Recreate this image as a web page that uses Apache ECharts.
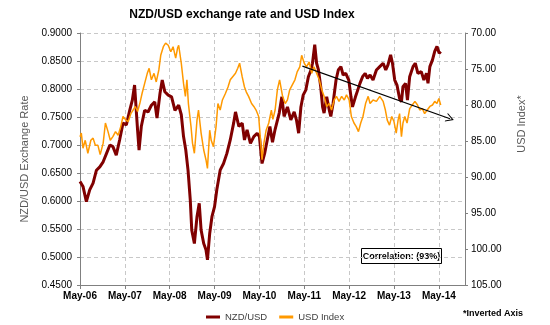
<!DOCTYPE html>
<html>
<head>
<meta charset="utf-8">
<script src="https://cdn.jsdelivr.net/npm/echarts@6/dist/echarts.min.js"></script>
<style>
  html, body { margin: 0; padding: 0; background: #fff; }
  #chart { width: 550px; height: 325px; }
</style>
</head>
<body>
<div id="chart"></div>
<script>
// Months elapsed since May 2006 (x positions) and NZD/USD spot rate
const nzdMonths = [0,0.8,1.7,2.6,3.5,4.4,5.3,6.2,7.1,8.0,8.8,9.7,10.6,11.5,12.4,13.3,14.0,14.6,15.4,15.8,
  16.4,17.3,18.2,19.1,20.0,20.6,21.4,22.0,22.7,23.6,24.5,25.4,26.4,27.1,27.7,28.3,28.9,29.5,29.9,30.6,
  31.3,31.9,32.4,33.1,33.7,34.1,34.7,35.3,36.0,36.6,37.5,38.4,39.3,40.2,41.1,41.6,42.5,43.4,44.0,44.7,
  45.6,46.5,47.4,48.0,48.7,49.4,50.1,50.8,51.5,52.2,53.3,54.0,54.6,55.5,56.4,57.3,57.9,58.5,59.1,59.7,
  60.4,61.1,61.8,62.2,62.8,63.3,63.8,64.4,64.9,65.3,66.0,66.7,67.1,67.7,68.5,69.1,69.8,70.4,71.1,71.9,
  72.5,72.9,73.7,74.3,74.9,75.6,76.3,76.9,77.6,78.4,79.3,80.2,81.1,81.8,82.4,83.1,83.6,84.2,84.8,85.5,
  86.0,86.4,87.1,87.6,88.2,89.1,89.7,90.4,91.3,92.0,92.7,93.1,93.6,94.3,94.9,95.5,96.1,96.5];
const nzdValues = [0.635,0.626,0.599,0.620,0.632,0.655,0.661,0.670,0.685,0.700,0.697,0.682,0.709,0.739,0.736,0.762,0.780,0.807,0.727,0.691,
  0.733,0.762,0.759,0.771,0.777,0.748,0.792,0.816,0.795,0.789,0.786,0.762,0.771,0.754,0.715,0.691,0.655,0.602,0.548,0.524,
  0.572,0.596,0.548,0.524,0.513,0.495,0.542,0.572,0.590,0.620,0.655,0.667,0.685,0.709,0.739,0.759,0.733,0.739,0.709,0.727,
  0.703,0.715,0.721,0.715,0.667,0.685,0.709,0.733,0.705,0.728,0.757,0.786,0.751,0.768,0.745,0.759,0.745,0.721,0.768,0.789,
  0.798,0.822,0.834,0.846,0.879,0.846,0.834,0.804,0.768,0.757,0.786,0.762,0.751,0.774,0.816,0.834,0.840,0.825,0.828,0.816,
  0.786,0.768,0.786,0.798,0.810,0.822,0.828,0.819,0.825,0.816,0.834,0.840,0.846,0.834,0.843,0.861,0.846,0.816,0.807,0.783,
  0.777,0.804,0.810,0.780,0.822,0.840,0.846,0.828,0.831,0.816,0.828,0.810,0.840,0.852,0.867,0.876,0.864,0.867];

// Months elapsed since May 2006 and the US Dollar Index (plotted on an inverted axis)
const usdMonths = [0,0.35,0.8,1.4,2.1,2.9,3.5,4.1,4.8,5.4,6.2,6.8,7.5,8.1,8.8,9.5,10.2,10.9,11.5,12.3,
  12.9,13.6,14.2,14.8,15.4,16.0,16.6,17.3,18.0,18.5,19.1,19.8,20.4,21.1,21.6,22.3,22.9,23.6,24.3,24.9,
  25.6,26.1,26.4,27.1,27.7,28.2,28.6,29.0,29.7,30.1,30.6,31.3,31.7,32.4,33.1,33.7,34.1,34.7,35.1,35.7,
  36.4,36.9,37.5,38.1,38.9,39.6,40.2,40.8,41.6,42.2,42.7,43.4,44.0,44.5,45.1,45.9,46.5,47.1,47.8,48.3,
  48.7,49.2,49.8,50.5,51.2,51.6,52.2,52.8,53.4,54.2,54.9,55.5,56.1,56.8,57.5,58.1,58.8,59.3,60.0,60.6,
  61.3,62.0,62.6,63.3,64.0,64.7,65.3,66.0,66.7,67.3,68.0,68.6,69.3,70.0,70.7,71.3,72.0,72.6,73.3,73.9,
  74.5,75.1,75.7,76.4,77.1,77.6,78.4,79.3,80.2,81.1,81.7,82.2,82.8,83.4,84.0,84.6,85.1,85.5,86.0,86.4,
  86.9,87.5,88.2,88.9,89.6,90.3,90.9,91.6,92.2,92.9,93.6,94.3,94.9,95.5,96.0,96.5];
const usdValues = [84.4,83.9,86.0,84.9,86.7,84.9,84.6,85.6,85.6,86.9,85.3,82.5,83.7,84.9,84.4,83.7,84.2,83.0,81.6,82.1,
  82.3,81.2,80.7,80.2,80.9,79.8,78.4,77.0,75.6,74.9,76.5,75.6,76.8,75.1,73.1,71.9,71.4,71.7,72.6,71.9,
  73.5,72.1,71.7,74.2,77.0,78.8,76.5,79.8,83.0,85.3,86.7,82.1,80.7,83.9,86.25,87.6,88.8,83.5,84.9,85.8,
  83.0,79.8,80.7,79.3,78.4,77.5,76.5,76.1,75.6,74.9,74.2,76.1,77.5,78.2,78.8,79.8,80.2,80.7,81.6,84.9,
  87.6,85.3,83.5,82.5,80.7,82.0,80.7,77.9,76.5,78.8,79.8,79.3,77.9,77.2,76.5,75.4,74.7,73.1,74.2,74.7,
  74.0,75.6,74.7,75.6,76.5,77.9,78.8,80.2,79.8,80.7,79.3,78.8,79.5,78.8,79.3,78.6,79.3,81.6,82.5,83.0,
  83.7,82.5,81.6,79.8,78.8,79.8,79.3,79.5,78.8,79.5,80.7,82.1,82.8,81.6,82.3,83.9,82.1,81.2,84.4,82.5,
  81.6,82.5,80.5,80.0,79.5,80.0,80.7,80.5,81.2,80.7,80.2,80.0,79.5,79.8,79.1,80.0];

// Trend arrow drawn against the USD Index axis: [month, index]
const trendStart = [59.5, 74.6];
const trendEnd = [99.0, 81.9];

// Axis ranges and tick steps
const xMin = 0, xMax = 103, xStep = 12;
const leftMin = 0.45, leftMax = 0.90, leftStep = 0.05;
const rightMin = 70, rightMax = 105, rightStep = 5;
const monthNames = ['Jan','Feb','Mar','Apr','May','Jun','Jul','Aug','Sep','Oct','Nov','Dec'];
const startMonth = 4, startYear = 2006;   // May 2006

const correlationText = 'Correlation: (93%)';

const FONT = '"Liberation Sans", Arial, sans-serif';
const NZD_COLOR = '#800000';
const USD_COLOR = '#FF9900';

function monthLabel(v) {
  const total = startMonth + Math.round(v);
  const y = startYear + Math.floor(total / 12);
  return monthNames[total % 12] + '-' + String(y).slice(2);
}

const zip = (xs, ys) => xs.map((x, i) => [x, ys[i]]);

const chart = echarts.init(document.getElementById('chart'), null, { renderer: 'canvas' });

chart.setOption({
  animation: false,
  backgroundColor: '#ffffff',
  textStyle: { fontFamily: FONT },
  grid: { left: 80, right: 85, top: 33, bottom: 40 },
  legend: {
    left: 201,
    top: 307,
    itemWidth: 14,
    itemHeight: 3,
    itemGap: 12,
    textStyle: { fontFamily: FONT, fontSize: 9.5, color: '#404040' },
    data: [
      { name: 'NZD/USD', icon: 'rect', itemStyle: { color: NZD_COLOR } },
      { name: 'USD Index', icon: 'rect', itemStyle: { color: USD_COLOR } }
    ]
  },
  xAxis: {
    type: 'value',
    min: xMin,
    max: xMax,
    interval: xStep,
    axisLine: { show: true, onZero: false, lineStyle: { color: '#808080', width: 1 } },
    axisTick: { show: true, length: 4, lineStyle: { color: '#808080' } },
    axisLabel: {
      formatter: monthLabel,
      fontFamily: FONT, fontSize: 10, fontWeight: 'bold', color: '#000', margin: 6,
      showMaxLabel: false
    },
    splitLine: { show: true, lineStyle: { color: '#c8c8c8', type: [4, 3], width: 1 } }
  },
  yAxis: [
    {
      type: 'value',
      position: 'left',
      min: leftMin,
      max: leftMax,
      interval: leftStep,
      name: 'NZD/USD Exchange Rate',
      nameLocation: 'middle',
      nameGap: 45,
      nameRotate: 90,
      nameTextStyle: { fontFamily: FONT, fontSize: 11, color: '#595959' },
      axisLine: { show: true, lineStyle: { color: '#808080', width: 1 } },
      axisTick: { show: true, length: 3, lineStyle: { color: '#808080' } },
      axisLabel: {
        formatter: v => v.toFixed(4),
        fontFamily: FONT, fontSize: 10, color: '#000', margin: 8
      },
      splitLine: { show: true, lineStyle: { color: '#c8c8c8', type: [4, 3], width: 1 } }
    },
    {
      type: 'value',
      position: 'right',
      inverse: true,
      min: rightMin,
      max: rightMax,
      interval: rightStep,
      axisLine: { show: true, lineStyle: { color: '#808080', width: 1 } },
      axisTick: { show: true, length: 3, lineStyle: { color: '#808080' } },
      axisLabel: {
        formatter: v => v.toFixed(2),
        fontFamily: FONT, fontSize: 10, color: '#000', margin: 6
      },
      splitLine: { show: false }
    }
  ],
  series: [
    {
      name: 'NZD/USD',
      type: 'line',
      yAxisIndex: 0,
      data: zip(nzdMonths, nzdValues),
      showSymbol: false,
      symbol: 'none',
      lineStyle: { color: NZD_COLOR, width: 3 },
      itemStyle: { color: NZD_COLOR },
      z: 2
    },
    {
      name: 'USD Index',
      type: 'line',
      yAxisIndex: 1,
      data: zip(usdMonths, usdValues),
      showSymbol: false,
      symbol: 'none',
      lineStyle: { color: USD_COLOR, width: 1.5 },
      itemStyle: { color: USD_COLOR },
      z: 3,
      markLine: {
        silent: true,
        animation: false,
        symbol: ['none', 'path://M0,10 L5,0 L10,10 L8.8,10 L5,2.6 L1.2,10 Z'],
        symbolSize: [9, 8],
        label: { show: false },
        lineStyle: { color: '#000', width: 1.1, type: 'solid' },
        data: [[{ coord: trendStart }, { coord: trendEnd }]]
      }
    }
  ],
  graphic: [
    {
      type: 'text',
      x: 242, y: 15,
      style: {
        text: 'NZD/USD exchange rate and USD Index',
        align: 'center', verticalAlign: 'middle',
        font: 'bold 12px ' + FONT, fill: '#000'
      }
    },
    {
      type: 'text',
      x: 522, y: 124,
      rotation: Math.PI / 2,
      style: {
        text: 'USD Index*',
        align: 'center', verticalAlign: 'middle',
        font: '11px ' + FONT, fill: '#595959'
      }
    },
    {
      type: 'text',
      x: 463, y: 314,
      style: {
        text: '*Inverted Axis',
        align: 'left', verticalAlign: 'middle',
        font: 'bold 9px ' + FONT, fill: '#000'
      }
    },
    {
      type: 'group',
      x: 361, y: 248,
      children: [
        {
          type: 'rect',
          shape: { x: 0.5, y: 0.5, width: 80, height: 15 },
          style: { fill: '#fff', stroke: '#000', lineWidth: 1 }
        },
        {
          type: 'text',
          x: 40.5, y: 8.5,
          style: {
            text: correlationText,
            align: 'center', verticalAlign: 'middle',
            font: 'bold 9px ' + FONT, fill: '#000'
          }
        }
      ]
    }
  ]
});
</script>
</body>
</html>
